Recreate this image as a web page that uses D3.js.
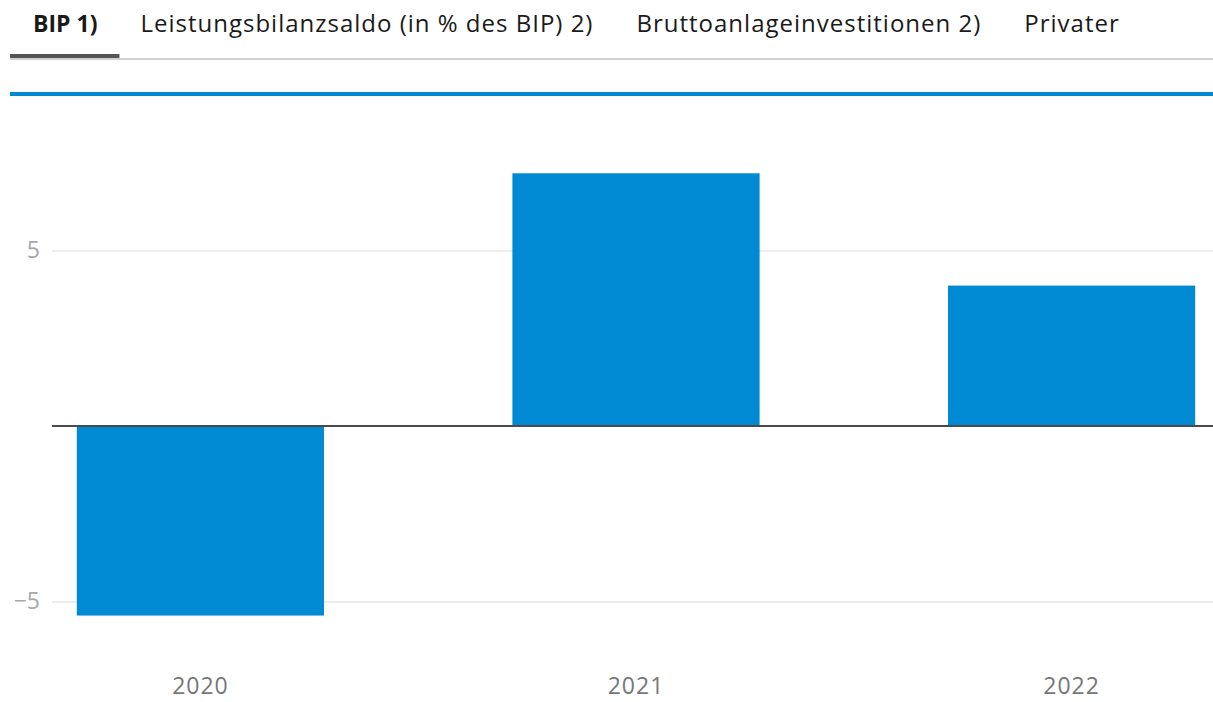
<!DOCTYPE html>
<html lang="de">

<head>
    <meta charset="utf-8">
    <title>BIP 1)</title>
    <style>
        body {
            margin: 0;
            background: #fff;
        }
        svg {
            display: block;
            font-family: "Open Sans", "Noto Sans", sans-serif;
        }
        .tab {
            font-size: 24px;
            letter-spacing: 1px;
            fill: #1a1a1a;
        }
        .tab.active {
            font-weight: bold;
            font-size: 23px;
            letter-spacing: 0;
        }
        .axis text {
            font-family: "Open Sans", "Noto Sans", sans-serif;
        }
        .y.axis text {
            font-size: 23px;
            fill: #a8a8a8;
        }
        .y.axis line {
            stroke: #e6e6e6;
            stroke-width: 1.5px;
        }
        .x.axis text {
            font-size: 23px;
            letter-spacing: 1px;
            fill: #777;
        }
        .axis path {
            display: none;
        }
        .bar {
            fill: #008ad3;
        }
        .zero {
            stroke: #4a4a4a;
            stroke-width: 2px;
        }
    </style>
</head>

<body>
    <script src="https://cdn.jsdelivr.net/npm/d3@7"></script>
    <script>
        // tab labels (first one is the selected one)
        const tabs = ["BIP 1)", "Leistungsbilanzsaldo (in % des BIP) 2)", "Bruttoanlageinvestitionen 2)", "Privater"];

        // chart data
        const years = ["2020", "2021", "2022"];
        const values = [-5.4, 7.2, 4.0];
        const yTicks = [-5, 5];

        const width = 1213,
            height = 702;

        const svg = d3.select('body')
            .append('svg')
                .attr('width', width)
                .attr('height', height);

        // tab bar
        const tabGap = 43;
        let tx = 33;
        const tabG = svg.append('g').attr('class', 'tabs');
        tabs.forEach((t, i) => {
            const txt = tabG.append('text')
                .attr('class', i === 0 ? 'tab active' : 'tab')
                .attr('x', tx)
                .attr('y', 32)
                .text(t);
            const w = txt.node().getComputedTextLength();
            if (i === 0) {
                tabG.append('rect')
                    .attr('x', 10)
                    .attr('y', 54)
                    .attr('width', w + 45)
                    .attr('height', 4)
                    .attr('fill', '#555');
            }
            tx += w + tabGap;
        });
        tabG.insert('rect', 'rect')
            .attr('x', 10)
            .attr('y', 58)
            .attr('width', width - 10)
            .attr('height', 2)
            .attr('fill', '#d0d0d0');

        // blue rule above the chart
        svg.append('rect')
            .attr('x', 10)
            .attr('y', 92)
            .attr('width', width - 10)
            .attr('height', 4)
            .attr('fill', '#0089d2');

        // scales
        const x = d3.scaleBand()
            .domain(years)
            .range([52, 1220])
            .paddingInner(0.4325)
            .paddingOuter(0.057);

        const y = d3.scaleLinear()
            .domain([-6, 8])
            .range([426 + 6 * 35.1, 426 - 8 * 35.1]);

        // y axis with gridlines
        svg.append('g')
            .attr('class', 'y axis')
            .attr('transform', 'translate(52, 0)')
            .call(d3.axisLeft(y)
                .tickValues(yTicks)
                .tickSizeInner(-(width - 52))
                .tickSizeOuter(0)
                .tickPadding(12));

        // bars
        svg.append('g')
            .selectAll('rect')
            .data(years)
            .join('rect')
                .attr('class', 'bar')
                .attr('x', d => x(d))
                .attr('width', x.bandwidth())
                .attr('y', (d, i) => y(Math.max(0, values[i])))
                .attr('height', (d, i) => Math.abs(y(values[i]) - y(0)));

        // zero line
        svg.append('line')
            .attr('class', 'zero')
            .attr('x1', 52)
            .attr('x2', width)
            .attr('y1', y(0))
            .attr('y2', y(0));

        // x axis
        svg.append('g')
            .attr('class', 'x axis')
            .attr('transform', 'translate(0, 669)')
            .call(d3.axisBottom(x)
                .tickSize(0)
                .tickPadding(9));
    </script>
</body>

</html>
